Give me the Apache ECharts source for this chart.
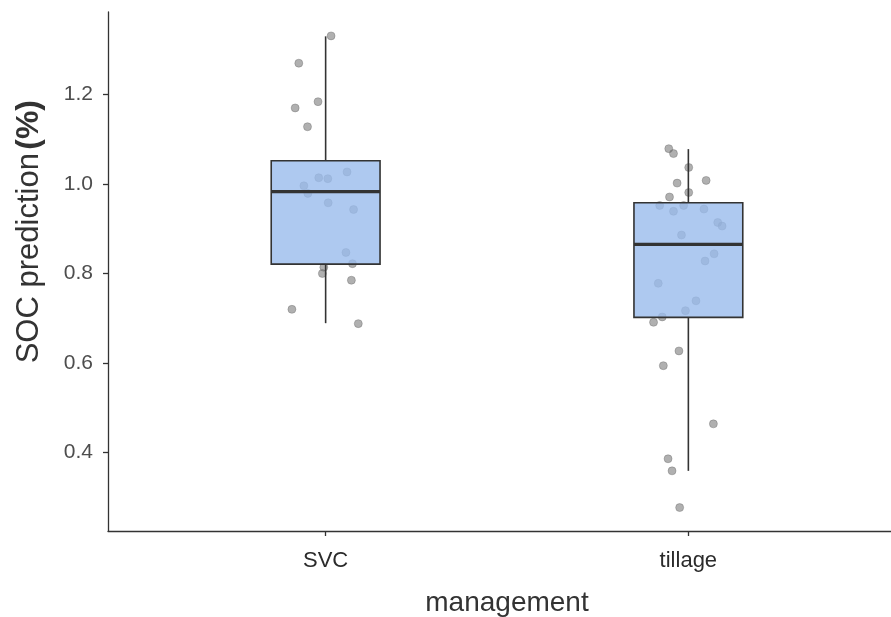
<!DOCTYPE html>
<html>
<head>
<meta charset="utf-8">
<script src="https://cdn.jsdelivr.net/npm/echarts@6/dist/echarts.min.js"></script>
<style>
  html, body { margin: 0; padding: 0; background: #fff; }
  #chart { width: 891px; height: 617px; }
</style>
</head>
<body>
<div id="chart"></div>
<script>
// categories and their position on the x scale
const categories = ['SVC', 'tillage'];
const categoryPos = [1, 2];

// box stats per category: [min, q1, median, q3, max]
const boxStats = [
  [0.689, 0.821, 0.983, 1.052, 1.330],
  [0.359, 0.702, 0.865, 0.958, 1.078],
];

// jittered points: x (category pos + jitter), y (SOC %)
const svcX = [1.015, 0.926, 0.979, 0.916, 0.950, 1.059, 0.981, 1.006, 0.940, 0.951,
  1.007, 1.077, 1.056, 1.074, 0.995, 0.991, 1.071, 0.907, 1.090];
const svcY = [1.331, 1.270, 1.184, 1.170, 1.128, 1.027, 1.014, 1.012, 0.996, 0.979,
  0.958, 0.943, 0.847, 0.822, 0.814, 0.800, 0.785, 0.720, 0.688];
const tillageX = [1.946, 1.959, 2.001, 1.969, 2.049, 2.001, 1.948, 1.921, 1.987, 1.959,
  2.043, 2.081, 2.093, 1.981, 2.071, 2.046, 1.917, 2.021, 1.992, 1.928,
  1.904, 1.974, 1.931, 2.069, 1.944, 1.955, 1.976];
const tillageY = [1.079, 1.068, 1.037, 1.002, 1.008, 0.981, 0.971, 0.952, 0.952, 0.939,
  0.944, 0.914, 0.906, 0.886, 0.844, 0.828, 0.778, 0.739, 0.717, 0.703,
  0.691, 0.627, 0.594, 0.464, 0.386, 0.359, 0.277];

const yTicks = [0.4, 0.6, 0.8, 1.0, 1.2];

const chart = echarts.init(document.getElementById('chart'));

const points = [];
svcX.forEach((x, i) => points.push([x, svcY[i]]));
tillageX.forEach((x, i) => points.push([x, tillageY[i]]));

const boxData = boxStats.map((s, i) => [categoryPos[i]].concat(s));
const halfWidth = 0.15;

function renderBox(params, api) {
  const x = api.value(0);
  const lo = api.coord([x, api.value(1)]);
  const q1 = api.coord([x, api.value(2)]);
  const med = api.coord([x, api.value(3)]);
  const q3 = api.coord([x, api.value(4)]);
  const hi = api.coord([x, api.value(5)]);
  const left = api.coord([x - halfWidth, api.value(3)])[0];
  const right = api.coord([x + halfWidth, api.value(3)])[0];
  const stroke = { stroke: '#333', lineWidth: 1.6 };
  return {
    type: 'group',
    children: [
      { type: 'line', shape: { x1: lo[0], y1: lo[1], x2: q1[0], y2: q1[1] }, style: stroke },
      { type: 'line', shape: { x1: q3[0], y1: q3[1], x2: hi[0], y2: hi[1] }, style: stroke },
      {
        type: 'rect',
        shape: { x: left, y: q3[1], width: right - left, height: q1[1] - q3[1] },
        style: { fill: 'rgba(154,188,236,0.8)', stroke: '#333', lineWidth: 1.6 },
      },
      { type: 'line', shape: { x1: left, y1: med[1], x2: right, y2: med[1] }, style: { stroke: '#333', lineWidth: 3.2 } },
    ],
  };
}

const option = {
  animation: false,
  grid: {
    left: 108, top: 12, width: 798, height: 519,
    containLabel: false,
    outerBoundsMode: 'none', // v6: don't shrink grid to fit labels
  },
  xAxis: {
    type: 'value',
    min: 0.4,
    max: 2.6,
    name: 'management',
    nameLocation: 'middle',
    nameGap: 58,
    nameTextStyle: { fontSize: 28, color: '#333', fontFamily: 'Liberation Sans' },
    axisLine: { show: true, lineStyle: { color: '#333', width: 1.3 } },
    axisTick: { show: true, length: 5, lineStyle: { color: '#333', width: 1.3 }, customValues: categoryPos },
    axisLabel: {
      customValues: categoryPos,
      formatter: (v) => categories[categoryPos.indexOf(Math.round(v))] || '',
      fontSize: 22,
      color: '#2b2b2b',
      margin: 19,
      fontFamily: 'Liberation Sans',
    },
    splitLine: { show: false },
  },
  yAxis: {
    type: 'value',
    min: 0.2246,
    max: 1.3844,
    axisLine: { show: true, lineStyle: { color: '#333', width: 1.3 } },
    axisTick: { show: true, length: 5, lineStyle: { color: '#333', width: 1.3 }, customValues: yTicks },
    axisLabel: {
      customValues: yTicks,
      formatter: (v) => v.toFixed(1),
      fontSize: 21,
      color: '#4d4d4d',
      margin: 15,
      fontFamily: 'Liberation Sans',
    },
    splitLine: { show: false },
  },
  graphic: [{
    type: 'text',
    left: 13,
    top: 100,
    rotation: Math.PI / 2,
    style: {
      text: '{a|SOC prediction} {b|(%)}',
      fill: '#333',
      rich: {
        a: { fontSize: 31, fontFamily: 'Liberation Sans', fill: '#333' },
        b: { fontSize: 32, fontFamily: 'Liberation Sans', fontWeight: 'bold', fill: '#333' },
      },
    },
  }],
  series: [
    {
      type: 'scatter',
      data: points,
      symbolSize: 8,
      z: 2,
      itemStyle: { color: 'rgba(115,115,115,0.7)', borderColor: 'rgba(90,90,90,0.7)', borderWidth: 0.6 },
    },
    {
      type: 'custom',
      data: boxData,
      renderItem: renderBox,
      z: 3,
      encode: { x: 0, y: [1, 2, 3, 4, 5] },
    },
  ],
};

chart.setOption(option);
</script>
</body>
</html>
